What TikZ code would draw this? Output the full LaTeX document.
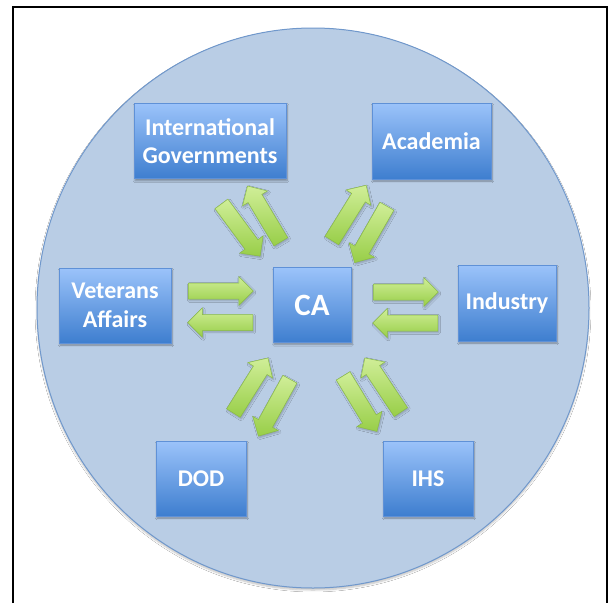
\documentclass[tikz,border=0pt]{standalone}
\usepackage{fontspec}
\setmainfont{Carlito}
\usetikzlibrary{shapes.arrows,shadows.blur}
\definecolor{circfill}{RGB}{185,205,229}
\definecolor{circline}{RGB}{112,152,204}
\definecolor{boxtop}{RGB}{155,195,250}
\definecolor{boxbot}{RGB}{62,126,207}
\definecolor{boxline}{RGB}{95,145,215}
\definecolor{arrtop}{RGB}{208,238,152}
\definecolor{arrbot}{RGB}{152,206,72}
\definecolor{arrline}{RGB}{138,188,70}
\begin{document}
\begin{tikzpicture}[x=1pt,y=-1pt,
  box/.style={draw=boxline, line width=0.6pt, top color=boxtop, bottom color=boxbot,
    text=white, font=\bfseries\fontsize{24}{28.5}\selectfont, align=center, inner sep=0pt,
    blur shadow={shadow xshift=1pt, shadow yshift=-2pt, shadow blur steps=6, shadow opacity=35}},
  fat/.style={single arrow, draw=arrline, line width=0.5pt, top color=arrtop, bottom color=arrbot,
    minimum height=65pt, inner xsep=0pt, inner ysep=7.75pt, single arrow head extend=6.5pt,
    single arrow tip angle=90, sloped, allow upside down, pos=0, anchor=tail,
    blur shadow={shadow xshift=1pt, shadow yshift=-1.5pt, shadow blur steps=4, shadow opacity=25}}]
\useasboundingbox (0,0) rectangle (611,603);
\fill[white] (0,0) rectangle (611,603);
% frame
\draw[line width=2pt] (13,603) -- (13,7) -- (607,7) -- (607,603);
% circle
\draw[fill=circfill, draw=circline, line width=1pt,
  blur shadow={shadow xshift=0pt, shadow yshift=-2pt, shadow blur steps=6, shadow opacity=25}]
  (313,308) ellipse [x radius=276, y radius=280];
% boxes
\node[box, minimum width=152pt, minimum height=75.5pt] (ig) at (210,141) {International\\Governments};
\node[box, minimum width=119pt, minimum height=76pt] (ac) at (431.5,141) {Academia};
\node[box, minimum width=112pt, minimum height=75pt] (va) at (115,305.5) {Veterans\\Affairs};
\node[box, minimum width=78pt, minimum height=74.5pt, font=\bfseries\fontsize{31}{36}\selectfont] (ca) at (312,305) {CA};
\node[box, minimum width=98pt, minimum height=76pt] (in) at (507,303) {Industry};
\node[box, minimum width=90pt, minimum height=75pt] (dod) at (201,478.5) {DOD};
\node[box, minimum width=90pt, minimum height=75pt] (ihs) at (428,478.5) {IHS};
% arrow end points
\coordinate (vaS) at (188,291);   \coordinate (vaE) at (253,291);
\coordinate (vbS) at (253,322.5); \coordinate (vbE) at (187,322.5);
\coordinate (iaS) at (373,292);   \coordinate (iaE) at (437,292);
\coordinate (ibS) at (438,323);   \coordinate (ibE) at (373,323);
\coordinate (gaS) at (221.3,203.7); \coordinate (gaE) at (260,256);
\coordinate (gbS) at (281,242);     \coordinate (gbE) at (248.3,187.3);
\coordinate (aaS) at (331.7,240.7); \coordinate (aaE) at (364.3,188.3);
\coordinate (abS) at (387,206);     \coordinate (abE) at (356.7,259);
\coordinate (daS) at (233.3,413.3); \coordinate (daE) at (266.7,360);
\coordinate (dbS) at (290,379);     \coordinate (dbE) at (260,433.3);
\coordinate (haS) at (343,375.7);   \coordinate (haE) at (376.7,431);
\coordinate (hbS) at (401,412.3);   \coordinate (hbE) at (366.7,360.7);
% block arrows
\path (vaS) -- (vaE) node[fat] (va2ca) {};
\path (vbS) -- (vbE) node[fat] (ca2va) {};
\path (iaS) -- (iaE) node[fat] (ca2in) {};
\path (ibS) -- (ibE) node[fat] (in2ca) {};
\path (gaS) -- (gaE) node[fat] (ig2ca) {};
\path (gbS) -- (gbE) node[fat] (ca2ig) {};
\path (aaS) -- (aaE) node[fat] (ca2ac) {};
\path (abS) -- (abE) node[fat] (ac2ca) {};
\path (daS) -- (daE) node[fat] (dod2ca) {};
\path (dbS) -- (dbE) node[fat] (ca2dod) {};
\path (haS) -- (haE) node[fat] (ca2ihs) {};
\path (hbS) -- (hbE) node[fat] (ihs2ca) {};
\end{tikzpicture}
\end{document}
